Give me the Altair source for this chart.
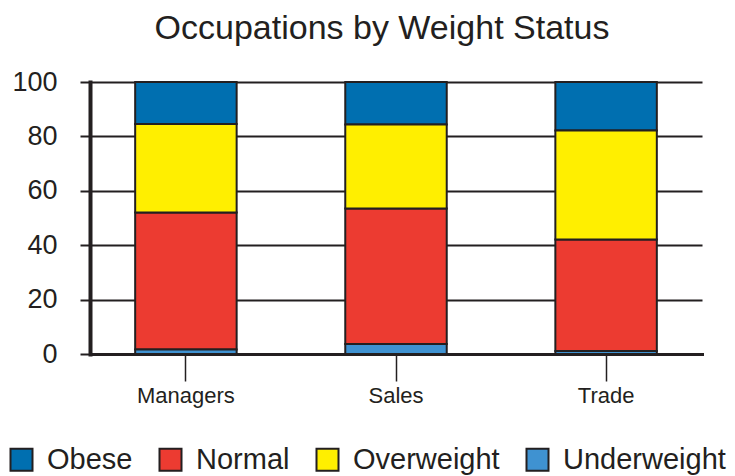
import altair as alt
import pandas as pd

occupations = ["Managers", "Sales", "Trade"]
statuses = ["Obese", "Normal", "Overweight", "Underweight"]
stack_rank = {"Underweight": 0, "Normal": 1, "Overweight": 2, "Obese": 3}
colors = ["#006fb0", "#ec3b31", "#ffef00", "#3f92d1"]

obese = [15.4, 15.6, 17.8]
normal = [50.3, 49.8, 41.0]
overweight = [32.6, 30.9, 40.1]
underweight = [1.7, 3.7, 1.1]

series = {"Obese": obese, "Normal": normal, "Overweight": overweight, "Underweight": underweight}
rows = []
for s, vals in series.items():
    for occ, v in zip(occupations, vals):
        rows.append({"occupation": occ, "status": s, "pct": v, "rank": stack_rank[s]})
df = pd.DataFrame(rows)

FONT = "Liberation Sans"
INK = "#231f20"

chart = alt.Chart(df).mark_bar(stroke=INK, strokeWidth=2).encode(
    x=alt.X("occupation:N", sort=occupations,
            scale=alt.Scale(paddingInner=0.517, paddingOuter=0.215),
            axis=alt.Axis(title=None, labelAngle=0, labelFontSize=22, labelFont=FONT,
                          labelColor=INK, tickSize=27, tickWidth=1.5, tickColor=INK,
                          domainWidth=3, domainColor=INK, labelPadding=4, grid=False)),
    y=alt.Y("pct:Q", stack="zero",
            scale=alt.Scale(domain=[0, 100], nice=False),
            axis=alt.Axis(title=None, values=[0, 20, 40, 60, 80, 100], labelFontSize=27,
                          labelFont=FONT, labelColor=INK, tickSize=10, tickWidth=2,
                          tickColor=INK, domainWidth=4, domainColor=INK, labelPadding=23,
                          grid=True, gridColor=INK, gridWidth=2, gridOpacity=1)),
    color=alt.Color("status:N",
                    scale=alt.Scale(domain=statuses, range=colors),
                    legend=alt.Legend(title=None, orient="none", direction="horizontal",
                                      legendX=-83, legendY=363,
                                      symbolType="square", symbolSize=484,
                                      symbolStrokeColor=INK, symbolStrokeWidth=2,
                                      symbolOpacity=1,
                                      labelFontSize=29, labelFont=FONT, labelColor=INK,
                                      labelOffset=11, columnPadding=22, labelLimit=400)),
    order=alt.Order("rank:Q", sort="ascending"),
).properties(
    width=612, height=272,
    title=alt.TitleParams("Occupations by Weight Status", fontSize=34, font=FONT,
                          fontWeight="normal", color=INK, anchor="middle", dx=-14,
                          offset=22),
    autosize=alt.AutoSizeParams(type="none"),
    padding={"left": 82, "top": 74, "right": 25, "bottom": 122},
).configure_view(stroke=None).configure_axis(domainCap="square")

chart.save("out.html", embed_options={"renderer": "svg", "actions": False})
